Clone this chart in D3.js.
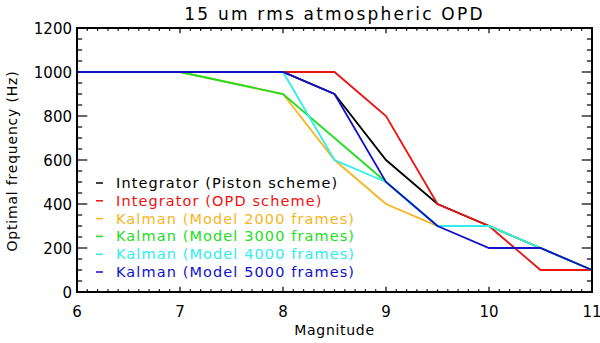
<!DOCTYPE html>
<html>
<head>
<meta charset="utf-8">
<script src="https://cdn.jsdelivr.net/npm/d3@7"></script>
<style>
  body { margin: 0; background: #fff; }
  text { font-family: "DejaVu Sans", sans-serif; fill: #000; }
</style>
</head>
<body>
<svg id="chart"></svg>
<script>
// magnitudes sampled
var magnitudes = [6, 7, 8, 8.5, 9, 9.5, 10, 10.5, 11];

var pistonInt = [1000, 1000, 1000, 900, 600, 400, 300, 200, 100];
var opdInt    = [1000, 1000, 1000, 1000, 800, 400, 300, 100, 100];
var kalman2000 = [1000, 1000, 900, 600, 400, 300, 300, 200, 100];
var kalman3000 = [1000, 1000, 900, 700, 500, 300, 300, 200, 100];
var kalman4000 = [1000, 1000, 1000, 600, 500, 300, 300, 200, 100];
var kalman5000 = [1000, 1000, 1000, 900, 500, 300, 200, 200, 100];

var seriesNames = ["Integrator (Piston scheme)", "Integrator (OPD scheme)",
  "Kalman (Model 2000 frames)", "Kalman (Model 3000 frames)",
  "Kalman (Model 4000 frames)", "Kalman (Model 5000 frames)"];
var seriesColors = ["#000000", "#ee1111", "#f7b51c", "#22dd22", "#2eeeee", "#1111cc"];
var seriesValues = [pistonInt, opdInt, kalman2000, kalman3000, kalman4000, kalman5000];

var xTicks = [6, 7, 8, 9, 10, 11];
var yTicks = [0, 200, 400, 600, 800, 1000, 1200];

function drawChart() {
    var svg = d3.select("#chart").attr("width", 600).attr("height", 343);
    var left = 77, right = 592, top = 28, bottom = 292;

    var xScale = d3.scaleLinear().domain([6, 11]).range([left, right]);
    var yScale = d3.scaleLinear().domain([0, 1200]).range([bottom, top]);

    // minor + major ticks, IDL style (inward on all four sides)
    var xMinor = d3.range(60, 111).map(function(d) { return d / 10; });
    var yMinor = d3.range(0, 1201, 50);
    var xLen = 0.02 * (bottom - top), yLen = 0.02 * (right - left);

    var ticks = svg.append("g").attr("stroke", "#000").attr("stroke-width", 1.2);
    xMinor.forEach(function(v) {
        var major = Math.abs(v - Math.round(v)) < 1e-6;
        var l = major ? xLen : xLen / 2;
        var x = xScale(v);
        ticks.append("line").attr("x1", x).attr("x2", x).attr("y1", bottom).attr("y2", bottom - l);
        ticks.append("line").attr("x1", x).attr("x2", x).attr("y1", top).attr("y2", top + l);
    });
    yMinor.forEach(function(v) {
        var major = v % 200 === 0;
        var l = major ? yLen : yLen / 2;
        var y = yScale(v);
        ticks.append("line").attr("x1", left).attr("x2", left + l).attr("y1", y).attr("y2", y);
        ticks.append("line").attr("x1", right).attr("x2", right - l).attr("y1", y).attr("y2", y);
    });

    // lines
    var line = d3.line()
        .x(function(d, i) { return xScale(magnitudes[i]); })
        .y(function(d) { return yScale(d); });

    seriesValues.forEach(function(vals, k) {
        svg.append("path")
            .attr("d", line(vals))
            .attr("fill", "none")
            .attr("stroke", seriesColors[k])
            .attr("stroke-width", 1.8)
            .attr("stroke-linejoin", "miter");
    });

    // frame
    svg.append("rect")
        .attr("x", left).attr("y", top)
        .attr("width", right - left).attr("height", bottom - top)
        .attr("fill", "none").attr("stroke", "#000").attr("stroke-width", 2);

    // tick labels
    xTicks.forEach(function(v) {
        svg.append("text").attr("x", xScale(v)).attr("y", bottom + 25)
            .attr("text-anchor", "middle").style("font-size", "15px").text(v);
    });
    yTicks.forEach(function(v) {
        svg.append("text").attr("x", left - 5).attr("y", yScale(v) + 5.5)
            .attr("text-anchor", "end").style("font-size", "15px").text(v);
    });

    svg.append("text").attr("x", (left + right) / 2).attr("y", 20)
        .attr("text-anchor", "middle").style("font-size", "17px")
        .style("letter-spacing", "2.2px")
        .text("15 um rms atmospheric OPD");
    svg.append("text").attr("x", (left + right) / 2).attr("y", 335)
        .attr("text-anchor", "middle").style("font-size", "14px")
        .style("letter-spacing", "0.7px").text("Magnitude");
    svg.append("text").attr("transform", "translate(17," + ((top + bottom) / 2 + 1) + ") rotate(-90)")
        .attr("text-anchor", "middle").style("font-size", "14px")
        .style("letter-spacing", "0.8px")
        .text("Optimal frequency (Hz)");

    // legend
    seriesNames.forEach(function(name, k) {
        var y = 183 + k * 17.8;
        svg.append("line").attr("x1", 96).attr("x2", 103).attr("y1", y).attr("y2", y)
            .attr("stroke", seriesColors[k]).attr("stroke-width", 1.5);
        svg.append("text").attr("x", 116).attr("y", y + 5)
            .style("font-size", "14.5px").style("letter-spacing", "1.1px")
            .style("fill", seriesColors[k]).text(name);
    });
}

drawChart();
</script>
</body>
</html>
